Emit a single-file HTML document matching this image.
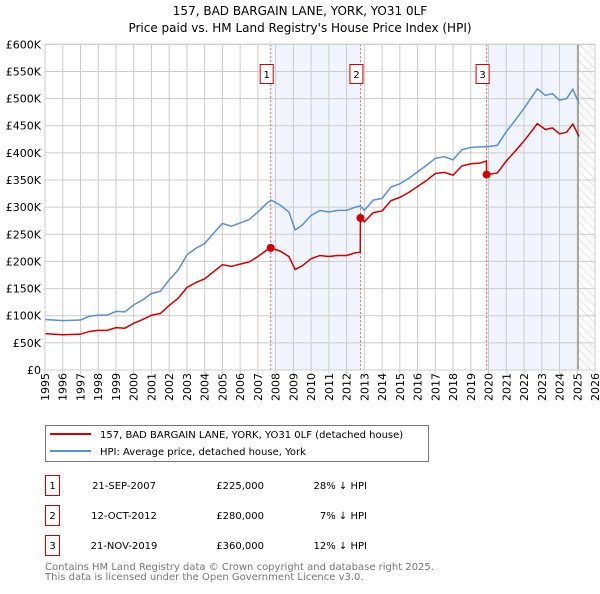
<!DOCTYPE html>
<html><head><meta charset="utf-8"><style>
body{margin:0;background:#fff;width:600px;height:590px;overflow:hidden;font-family:"DejaVu Sans","Liberation Sans",sans-serif}
svg text{font-family:"DejaVu Sans","Liberation Sans",sans-serif}
</style></head><body>
<svg id="chart" width="600" height="590" viewBox="0 0 600 590" xmlns="http://www.w3.org/2000/svg">
<defs><pattern id="hatch" width="6" height="6" patternUnits="userSpaceOnUse" patternTransform="rotate(-45)"><line x1="0" y1="0" x2="0" y2="6" stroke="#ccc" stroke-width="1"/></pattern></defs>
<text x="300" y="15" text-anchor="middle" font-size="12">157, BAD BARGAIN LANE, YORK, YO31 0LF</text>
<text x="300" y="32" text-anchor="middle" font-size="12">Price paid vs. HM Land Registry's House Price Index (HPI)</text>
<g id="bg"></g><g id="grid"></g><g id="series"></g><g id="axes"></g>
<g>
<rect x="45.5" y="425.5" width="383" height="36" fill="#fff" stroke="#777"/>
<line x1="50" y1="434" x2="91" y2="434" stroke="#cc0000" stroke-width="2"/>
<text x="100" y="438" font-size="10">157, BAD BARGAIN LANE, YORK, YO31 0LF (detached house)</text>
<line x1="50" y1="451" x2="91" y2="451" stroke="#5b8fd0" stroke-width="2"/>
<text x="100" y="455" font-size="10">HPI: Average price, detached house, York</text>
</g>
<g id="table"></g>
<text x="45" y="570" font-size="10" fill="#777">Contains HM Land Registry data © Crown copyright and database right 2025.</text>
<text x="45" y="580" font-size="10" fill="#777">This data is licensed under the Open Government Licence v3.0.</text>
</svg>
<script>
const hpiYears=[1995,1996,1997,1997.5,1998,1998.5,1999,1999.5,2000,2000.5,2001,2001.5,2002,2002.5,2003,2003.5,2004,2004.5,2005,2005.5,2006,2006.5,2007,2007.5,2007.75,2008.25,2008.75,2009.1,2009.5,2010,2010.5,2011,2011.5,2012,2012.5,2012.78,2013,2013.5,2014,2014.5,2015,2015.5,2016,2016.5,2017,2017.5,2018,2018.5,2019,2019.5,2019.9,2020.5,2021,2021.5,2022,2022.5,2022.75,2023.2,2023.6,2024,2024.4,2024.75,2025.1];
const hpiValues=[93,91,92,99,101,101,108,107,120,129,141,145,166,184,212,224,233,252,270,265,271,277,291,307,313,304,291,258,267,285,294,291,294,294,300,302,294,313,316,337,343,353,365,377,390,393,387,406,410,411,411,414,439,460,482,506,518,506,509,497,500,517,491];
const redYears=[1995,1996,1997,1997.5,1998,1998.5,1999,1999.5,2000,2000.5,2001,2001.5,2002,2002.5,2003,2003.5,2004,2004.5,2005,2005.5,2006,2006.5,2007,2007.5,2007.72,2008.25,2008.75,2009.1,2009.5,2010,2010.5,2011,2011.5,2012,2012.5,2012.77,2012.78,2013,2013.5,2014,2014.5,2015,2015.5,2016,2016.5,2017,2017.5,2018,2018.5,2019,2019.5,2019.88,2019.89,2020.5,2021,2021.5,2022,2022.5,2022.75,2023.2,2023.6,2024,2024.4,2024.75,2025.1];
const redValues=[67,65,66,71,73,73,78,77,86,93,101,104,119,132,152,161,168,181,194,191,195,199,209,221,225,219,209,185,192,205,211,209,211,211,216,217,280,273,290,293,312,318,327,338,349,362,364,359,376,380,381,385,360,363,385,403,422,443,454,443,446,435,438,453,430];
const saleYears=[2007.72,2012.78,2019.89];
const salePrices=[225,280,360];
const saleLabels=["1","2","3"];
const saleDates=["21-SEP-2007","12-OCT-2012","21-NOV-2019"];
const salePriceText=["£225,000","£280,000","£360,000"];
const saleDiff=["28% ↓ HPI","7% ↓ HPI","12% ↓ HPI"];
const yTicks=[0,50,100,150,200,250,300,350,400,450,500,550,600];
const yTickLabels=["£0","£50K","£100K","£150K","£200K","£250K","£300K","£350K","£400K","£450K","£500K","£550K","£600K"];
const xTicks=[];for(let y=1995;y<=2026;y++)xTicks.push(y);
const dataEnd=2025.05;

const X0=45,X1=595,Y0=370,Y1=44.3;
const xs=v=>X0+(v-1995)/(2026-1995)*(X1-X0);
const ys=v=>Y0-(v/600)*(Y0-Y1);
const NS="http://www.w3.org/2000/svg";
function mk(tag,attrs,parent,txt){const e=document.createElementNS(NS,tag);for(const k in attrs)e.setAttribute(k,attrs[k]);if(txt!==undefined)e.textContent=txt;parent.appendChild(e);return e;}
const bg=document.getElementById('bg'),grid=document.getElementById('grid'),ser=document.getElementById('series'),axes=document.getElementById('axes'),tbl=document.getElementById('table');

let r=mk('rect',{x:xs(saleYears[0]),y:Y1,width:xs(saleYears[1])-xs(saleYears[0]),height:Y0-Y1,fill:'#f0f4fc'},bg);

r=mk('rect',{x:xs(saleYears[2]),y:Y1,width:xs(dataEnd)-xs(saleYears[2]),height:Y0-Y1,fill:'#f0f4fc'},bg);

r=mk('rect',{x:xs(dataEnd),y:Y1,width:X1-xs(dataEnd),height:Y0-Y1,fill:'url(#hatch)'},bg);


xTicks.forEach(t=>{const l=mk('line',{x1:xs(t),x2:xs(t),y1:Y1,y2:Y0+4,stroke:'#ccc','stroke-width':1},grid);

const tx=mk('text',{transform:`translate(${xs(t)+4},${Y0+31}) rotate(-90)`,'font-size':11},axes,String(t));
});
yTicks.forEach((t,i)=>{const l=mk('line',{x1:X0,x2:X1,y1:ys(t),y2:ys(t),stroke:'#ccc','stroke-width':1},grid);

const tx=mk('text',{x:X0-4,y:ys(t)+4,'text-anchor':'end','font-size':11},axes,yTickLabels[i]);
});
let el=mk('line',{x1:xs(dataEnd),x2:xs(dataEnd),y1:Y1,y2:Y0,stroke:'#999','stroke-width':1.5},grid);


saleYears.forEach((s,i)=>{const l=mk('line',{x1:xs(s),x2:xs(s),y1:Y1,y2:Y0,stroke:'#e06060','stroke-width':1,'stroke-dasharray':'2,2'},grid);

const b=mk('rect',{x:xs(s)-10.5,y:64.5,width:13,height:19,fill:'#fff',stroke:'#cc0000'},axes);

const t=mk('text',{x:xs(s)-4,y:78,'text-anchor':'middle','font-size':10},axes,saleLabels[i]);
});

const hp=mk('polyline',{points:hpiYears.map((y,i)=>xs(y)+','+ys(hpiValues[i])).join(' '),fill:'none',stroke:'#5b8fd0','stroke-width':1.5},ser);

const rp=mk('polyline',{points:redYears.map((y,i)=>xs(y)+','+ys(redValues[i])).join(' '),fill:'none',stroke:'#cc0000','stroke-width':1.5},ser);

saleYears.forEach((s,i)=>{const c=mk('circle',{cx:xs(s),cy:ys(salePrices[i]),r:4,fill:'#cc0000'},ser);
});

const ax=mk('rect',{x:X0,y:Y1,width:X1-X0,height:Y0-Y1,fill:'none',stroke:'#ccc'},axes);


saleLabels.forEach((lab,i)=>{const y=485+30*i;
const b=mk('rect',{x:45.5,y:y-9.5,width:14,height:20,fill:'#fff',stroke:'#cc0000'},tbl);

let t=mk('text',{x:52.5,y:y+4,'text-anchor':'middle','font-size':10},tbl,lab);

t=mk('text',{x:124,y:y+4,'text-anchor':'middle','font-size':10},tbl,saleDates[i]);

t=mk('text',{x:264,y:y+4,'text-anchor':'end','font-size':10},tbl,salePriceText[i]);

t=mk('text',{x:367,y:y+4,'text-anchor':'end','font-size':10},tbl,saleDiff[i]);
});
</script>
</body></html>
